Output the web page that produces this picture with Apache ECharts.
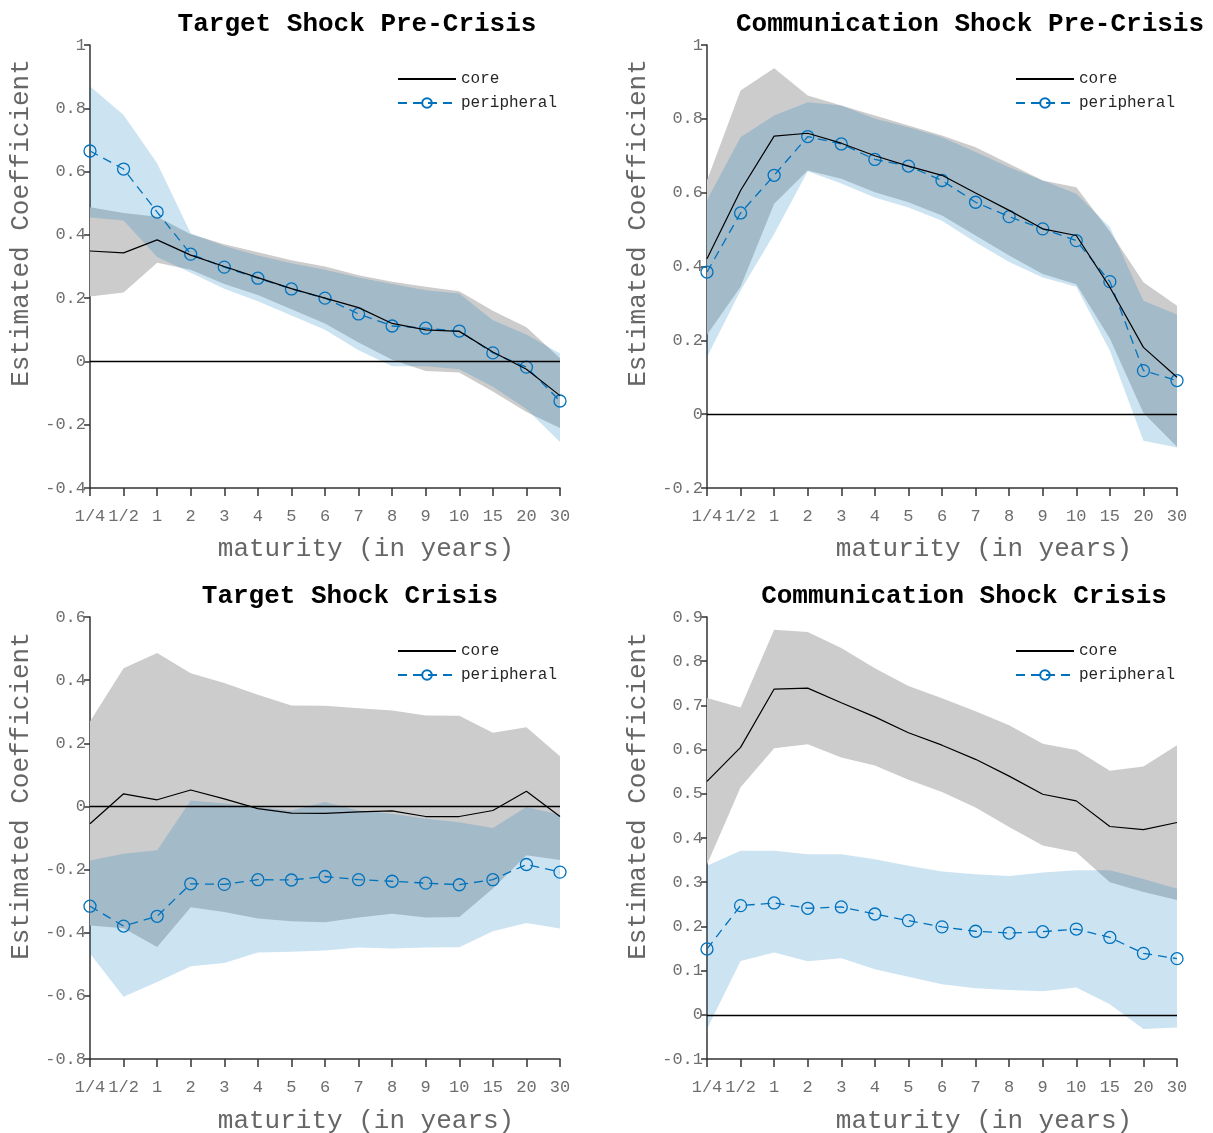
<!DOCTYPE html>
<html>
<head>
<meta charset="utf-8">
<script src="https://cdn.jsdelivr.net/npm/echarts@6/dist/echarts.min.js"></script>
<style>
html,body{margin:0;padding:0;background:#fff;}
#chart{width:1213px;height:1133px;}
</style>
</head>
<body>
<div id="chart"></div>
<script>
// ---------- DATA ----------
const categories = ['1/4','1/2','1','2','3','4','5','6','7','8','9','10','15','20','30'];
const titles = ['Target Shock Pre-Crisis','Communication Shock Pre-Crisis','Target Shock Crisis','Communication Shock Crisis'];
const seriesNames = ['core','peripheral'];

// Panel 1: Target Shock Pre-Crisis
const tpCore   = [0.349, 0.343, 0.384, 0.336, 0.300, 0.265, 0.230, 0.200, 0.170, 0.120, 0.100, 0.095, 0.030, -0.025, -0.108];
const tpCoreHi = [0.487, 0.469, 0.457, 0.402, 0.370, 0.345, 0.320, 0.300, 0.272, 0.252, 0.236, 0.222, 0.160, 0.108, 0.010];
const tpCoreLo = [0.205, 0.218, 0.312, 0.290, 0.245, 0.210, 0.165, 0.120, 0.060, 0.005, -0.030, -0.035, -0.095, -0.160, -0.210];
const tpPeri   = [0.665, 0.608, 0.472, 0.339, 0.298, 0.263, 0.229, 0.200, 0.150, 0.112, 0.105, 0.096, 0.027, -0.018, -0.125];
const tpPeriHi = [0.870, 0.779, 0.626, 0.405, 0.365, 0.335, 0.310, 0.290, 0.265, 0.245, 0.225, 0.215, 0.130, 0.085, 0.025];
const tpPeriLo = [0.455, 0.445, 0.330, 0.280, 0.230, 0.190, 0.145, 0.100, 0.035, -0.015, -0.015, -0.025, -0.080, -0.150, -0.255];

// Panel 2: Communication Shock Pre-Crisis
const cpCore   = [0.421, 0.606, 0.753, 0.761, 0.734, 0.700, 0.672, 0.647, 0.599, 0.552, 0.502, 0.484, 0.344, 0.181, 0.100];
const cpCoreHi = [0.633, 0.877, 0.937, 0.863, 0.836, 0.809, 0.782, 0.755, 0.723, 0.678, 0.633, 0.615, 0.495, 0.357, 0.294];
const cpCoreLo = [0.215, 0.345, 0.570, 0.660, 0.638, 0.601, 0.574, 0.538, 0.484, 0.430, 0.380, 0.352, 0.205, 0.003, -0.088];
const cpPeri   = [0.385, 0.545, 0.647, 0.752, 0.732, 0.690, 0.672, 0.633, 0.574, 0.535, 0.502, 0.470, 0.359, 0.118, 0.091];
const cpPeriHi = [0.580, 0.750, 0.809, 0.845, 0.836, 0.800, 0.777, 0.750, 0.710, 0.669, 0.633, 0.597, 0.506, 0.307, 0.270];
const cpPeriLo = [0.155, 0.335, 0.488, 0.658, 0.625, 0.587, 0.560, 0.524, 0.466, 0.412, 0.370, 0.345, 0.172, -0.072, -0.090];

// Panel 3: Target Shock Crisis
const tcCore   = [-0.055, 0.040, 0.021, 0.052, 0.024, -0.007, -0.021, -0.022, -0.017, -0.014, -0.032, -0.032, -0.013, 0.048, -0.032];
const tcCoreHi = [0.269, 0.438, 0.486, 0.422, 0.391, 0.354, 0.320, 0.319, 0.311, 0.304, 0.288, 0.287, 0.233, 0.251, 0.159];
const tcCoreLo = [-0.377, -0.386, -0.445, -0.319, -0.334, -0.355, -0.364, -0.367, -0.352, -0.340, -0.352, -0.350, -0.260, -0.155, -0.170];
const tcPeri   = [-0.316, -0.379, -0.348, -0.245, -0.247, -0.232, -0.233, -0.222, -0.232, -0.237, -0.243, -0.248, -0.232, -0.184, -0.208];
const tcPeriHi = [-0.171, -0.150, -0.139, 0.019, 0.009, -0.002, -0.013, 0.014, -0.013, -0.023, -0.039, -0.050, -0.068, -0.002, -0.026];
const tcPeriLo = [-0.466, -0.603, -0.556, -0.506, -0.496, -0.463, -0.460, -0.456, -0.447, -0.450, -0.447, -0.446, -0.395, -0.369, -0.387];

// Panel 4: Communication Shock Crisis
const ccCore   = [0.528, 0.605, 0.737, 0.739, 0.706, 0.674, 0.638, 0.610, 0.578, 0.540, 0.499, 0.484, 0.426, 0.419, 0.435];
const ccCoreHi = [0.717, 0.695, 0.871, 0.866, 0.830, 0.784, 0.744, 0.716, 0.687, 0.655, 0.613, 0.599, 0.552, 0.562, 0.610];
const ccCoreLo = [0.340, 0.515, 0.603, 0.612, 0.582, 0.564, 0.532, 0.504, 0.469, 0.425, 0.383, 0.368, 0.300, 0.278, 0.260];
const ccPeri   = [0.149, 0.247, 0.253, 0.241, 0.244, 0.228, 0.213, 0.199, 0.189, 0.185, 0.188, 0.194, 0.175, 0.139, 0.127];
const ccPeriHi = [0.337, 0.371, 0.371, 0.363, 0.363, 0.352, 0.337, 0.324, 0.318, 0.314, 0.322, 0.327, 0.327, 0.307, 0.285];
const ccPeriLo = [-0.032, 0.122, 0.141, 0.121, 0.128, 0.103, 0.086, 0.069, 0.060, 0.056, 0.053, 0.062, 0.024, -0.032, -0.029];

// y-axis ranges per panel
const yMins = [-0.4, -0.2, -0.8, -0.1];
const yMaxs = [1, 1, 0.6, 0.9];
const yIntervals = [0.2, 0.2, 0.2, 0.1];

// ---------- LAYOUT / STYLE ----------
const FONT = 'Liberation Mono';
const BLUE = '#0072BD';
const GRAY_BAND = '#cccccc';
const BLUE_BAND = 'rgba(0,114,189,0.2)';
const grids = [
  {left: 90, top: 45, width: 470, height: 443},
  {left: 707, top: 45, width: 470, height: 443},
  {left: 90, top: 617, width: 470, height: 442},
  {left: 707, top: 617, width: 470, height: 442}
];
const panels = [
  {core: tpCore, coreHi: tpCoreHi, coreLo: tpCoreLo, peri: tpPeri, periHi: tpPeriHi, periLo: tpPeriLo},
  {core: cpCore, coreHi: cpCoreHi, coreLo: cpCoreLo, peri: cpPeri, periHi: cpPeriHi, periLo: cpPeriLo},
  {core: tcCore, coreHi: tcCoreHi, coreLo: tcCoreLo, peri: tcPeri, periHi: tcPeriHi, periLo: tcPeriLo},
  {core: ccCore, coreHi: ccCoreHi, coreLo: ccCoreLo, peri: ccPeri, periHi: ccPeriHi, periLo: ccPeriLo}
];
const titlePos = [[357, 24], [970, 24], [350, 596], [964, 596]];
const yNamePos = [[21, 223], [638, 223], [21, 796], [638, 796]];
const xNamePos = [[366, 549], [984, 549], [366, 1121], [984, 1121]];
const legendPos = [[397, 71], [1015, 71], [397, 643], [1015, 643]];

function bandSeries(idx, lo, hi, color, z) {
  return {
    type: 'custom',
    xAxisIndex: idx, yAxisIndex: idx,
    z: z, silent: true,
    data: lo.map((v, i) => [i, v, hi[i]]),
    encode: {x: 0, y: [1, 2]},
    renderItem: function (params, api) {
      if (params.dataIndex !== 0) return null;
      const pts = [];
      for (let i = 0; i < hi.length; i++) pts.push(api.coord([i, hi[i]]));
      for (let i = lo.length - 1; i >= 0; i--) pts.push(api.coord([i, lo[i]]));
      return {type: 'polygon', shape: {points: pts}, style: {fill: color, stroke: null}};
    }
  };
}

const option = {
  animation: false,
  backgroundColor: '#fff',
  grid: grids.map(g => Object.assign({containLabel: false}, g)),
  xAxis: grids.map((g, i) => ({
    type: 'category', gridIndex: i, data: categories, boundaryGap: false,
    axisLine: {show: true, onZero: false, lineStyle: {color: '#333', width: 1.5}},
    axisTick: {show: true, inside: false, length: 8, alignWithLabel: true, interval: 0, lineStyle: {color: '#333', width: 1.5}},
    axisLabel: {interval: 0, margin: 20, color: '#6e6e6e', fontFamily: FONT, fontSize: 17},
    splitLine: {show: false}
  })),
  yAxis: grids.map((g, i) => ({
    type: 'value', gridIndex: i, min: yMins[i], max: yMaxs[i], interval: yIntervals[i],
    axisLine: {show: true, onZero: false, lineStyle: {color: '#333', width: 1.5}},
    axisTick: {show: true, inside: false, length: 6, lineStyle: {color: '#333', width: 1.5}},
    axisLabel: {margin: 4, color: '#6e6e6e', fontFamily: FONT, fontSize: 17,
      formatter: v => String(Math.round(v * 10) / 10)},
    splitLine: {show: false}
  })),
  legend: legendPos.map((p, i) => ({
    left: p[0], top: p[1], orient: 'vertical', padding: 0,
    itemWidth: 58, itemHeight: 12, itemGap: 8,
    data: [{name: seriesNames[0], itemStyle: {opacity: 0}}, {name: seriesNames[1]}],
    selectedMode: false,
    textStyle: {fontFamily: FONT, fontSize: 16, color: '#262626'}
  })),
  graphic: [].concat(
    titlePos.map((p, i) => ({
      type: 'text', x: p[0], y: p[1],
      style: {text: titles[i], font: 'bold 26px "' + FONT + '"', fill: '#000', textAlign: 'center', textVerticalAlign: 'middle'}
    })),
    yNamePos.map(p => ({
      type: 'text', x: p[0], y: p[1], rotation: Math.PI / 2,
      style: {text: 'Estimated Coefficient', font: '26px "' + FONT + '"', fill: '#666', textAlign: 'center', textVerticalAlign: 'middle'}
    })),
    xNamePos.map(p => ({
      type: 'text', x: p[0], y: p[1],
      style: {text: 'maturity (in years)', font: '26px "' + FONT + '"', fill: '#666', textAlign: 'center', textVerticalAlign: 'middle'}
    }))
  ),
  series: []
};

panels.forEach((p, i) => {
  option.series.push(bandSeries(i, p.coreLo, p.coreHi, GRAY_BAND, 1));
  option.series.push(bandSeries(i, p.periLo, p.periHi, BLUE_BAND, 2));
  option.series.push({
    name: seriesNames[0], type: 'line', xAxisIndex: i, yAxisIndex: i, z: 5,
    data: p.core, symbol: 'none', showSymbol: false,
    lineStyle: {color: '#000', width: 1.2},
    itemStyle: {color: '#000'},
    markLine: {
      silent: true, symbol: 'none', label: {show: false},
      lineStyle: {color: '#000', width: 1.4, type: 'solid'},
      data: [{yAxis: 0}]
    }
  });
  option.series.push({
    name: seriesNames[1], type: 'line', xAxisIndex: i, yAxisIndex: i, z: 4,
    data: p.peri, symbol: 'circle', symbolSize: 12,
    lineStyle: {color: BLUE, width: 1.3, type: [9, 6]},
    itemStyle: {color: 'rgba(255,255,255,0)', borderColor: BLUE, borderWidth: 1.3}
  });
});

const chart = echarts.init(document.getElementById('chart'), null, {renderer: 'canvas'});
chart.setOption(option);
</script>
</body>
</html>
